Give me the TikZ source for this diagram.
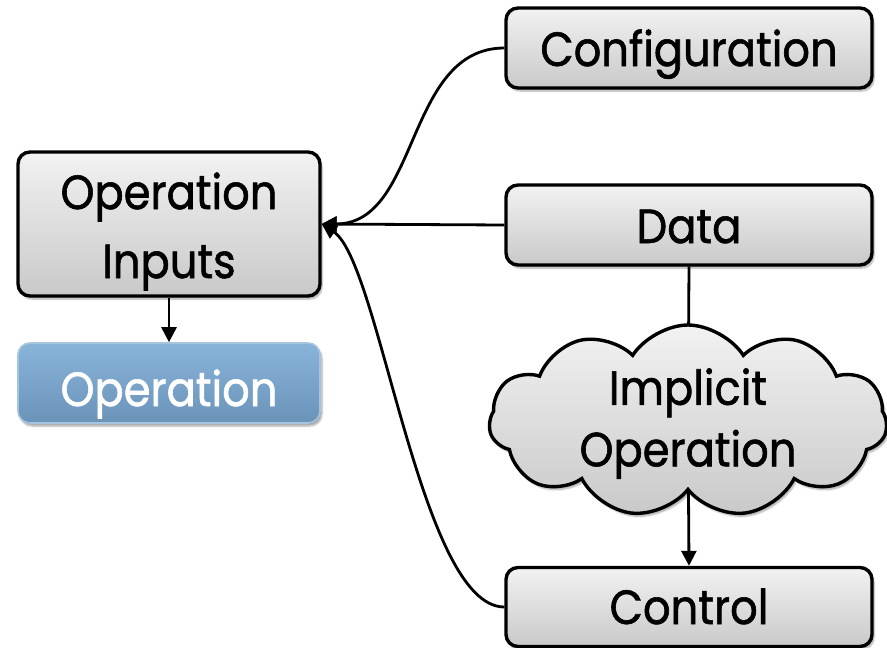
\documentclass[tikz,border=0pt]{standalone}
\usepackage{fontspec}
\newfontfamily\labelfamily{Poppins}[FakeStretch=0.9, FakeBold=1.2]
\usetikzlibrary{arrows.meta,shapes.symbols,shadows.blur,backgrounds}

\definecolor{boxtop}{HTML}{F2F2F2}
\definecolor{boxbot}{HTML}{C9C9C9}
\definecolor{optop}{HTML}{89B4DA}
\definecolor{opbot}{HTML}{6A93B8}
\definecolor{opedge}{HTML}{A4C4E0}

\newcommand{\labelfont}{\labelfamily\fontsize{48}{50}\selectfont}
% text whose baseline sits #1 below the node centre, taking no room itself
\newcommand{\lowered}[2]{\raisebox{-#1}[0pt][0pt]{#2}}
% two centred lines, #2 extra space between them
\newcommand{\twolines}[3]{\begin{tabular}{@{}c@{}}#1\\[#2]#3\end{tabular}}

\tikzset{
  softshadow/.style={blur shadow={shadow xshift=2pt, shadow yshift=-3pt,
      shadow blur steps=6, shadow opacity=35}},
  greybox/.style={draw=black, line width=3.4pt, rounded corners=12pt,
      top color=boxtop, bottom color=boxbot, softshadow,
      font=\labelfont, text=black, inner sep=0pt},
  bluebox/.style={draw=opedge, line width=1.6pt, rounded corners=12pt,
      top color=optop, bottom color=opbot, softshadow,
      font=\labelfont, text=white, inner sep=0pt},
  cloudshape/.style={cloud, cloud puffs=11, cloud puff arc=115, aspect=2,
      draw=black, line width=3.4pt, top color=boxtop, bottom color=boxbot,
      softshadow, inner sep=0pt},
  link/.style={line width=2.8pt, draw=black},
  tip/.style={-{Triangle[length=15pt,width=15pt]}}
}

\begin{document}
\begin{tikzpicture}[x=1pt,y=-1pt]
  \useasboundingbox (0,0) rectangle (887,648);

  % right-hand column of sources
  \node[greybox, minimum width=366pt, minimum height=80pt] (conf) at (689,48)
      {\lowered{18pt}{Configuration}};
  \node[greybox, minimum width=366pt, minimum height=80pt] (data) at (689,225)
      {\lowered{18pt}{Data}};
  \node[greybox, minimum width=366pt, minimum height=79pt] (ctrl) at (689,607)
      {\lowered{17pt}{Control}};

  % the implicit operation between data and control
  \node[cloudshape, minimum width=398pt, minimum height=192pt] (cloud) at (688,421) {};
  \node[font=\labelfont, text=black, inner sep=0pt] (cloudtext) at (688,421)
      {\lowered{10pt}{\twolines{Implicit}{10pt}{Operation}}};

  % left-hand column
  \node[greybox, minimum width=302pt, minimum height=144pt] (inputs) at (169,224)
      {\lowered{15pt}{\twolines{Operation}{19pt}{Inputs}}};
  \node[bluebox, minimum width=302pt, minimum height=80pt] (op) at (169,383)
      {\lowered{23pt}{Operation}};

  % connectors
  \begin{scope}[on background layer]
    \draw[link] (data.south) -- (cloud.center);
    \draw[link, tip] (cloud.center) -- (ctrl.north);
  \end{scope}
  \draw[link, tip] (inputs.south) -- (op.north);
  \draw[link, tip] (data.west) -- (inputs.east);
  \draw[link, tip] (conf.west) .. controls (405,48) and (420,224) .. (inputs.east);
  \draw[link, tip] (ctrl.west) .. controls (420,607) and (380,262) .. (inputs.east);
\end{tikzpicture}
\end{document}
